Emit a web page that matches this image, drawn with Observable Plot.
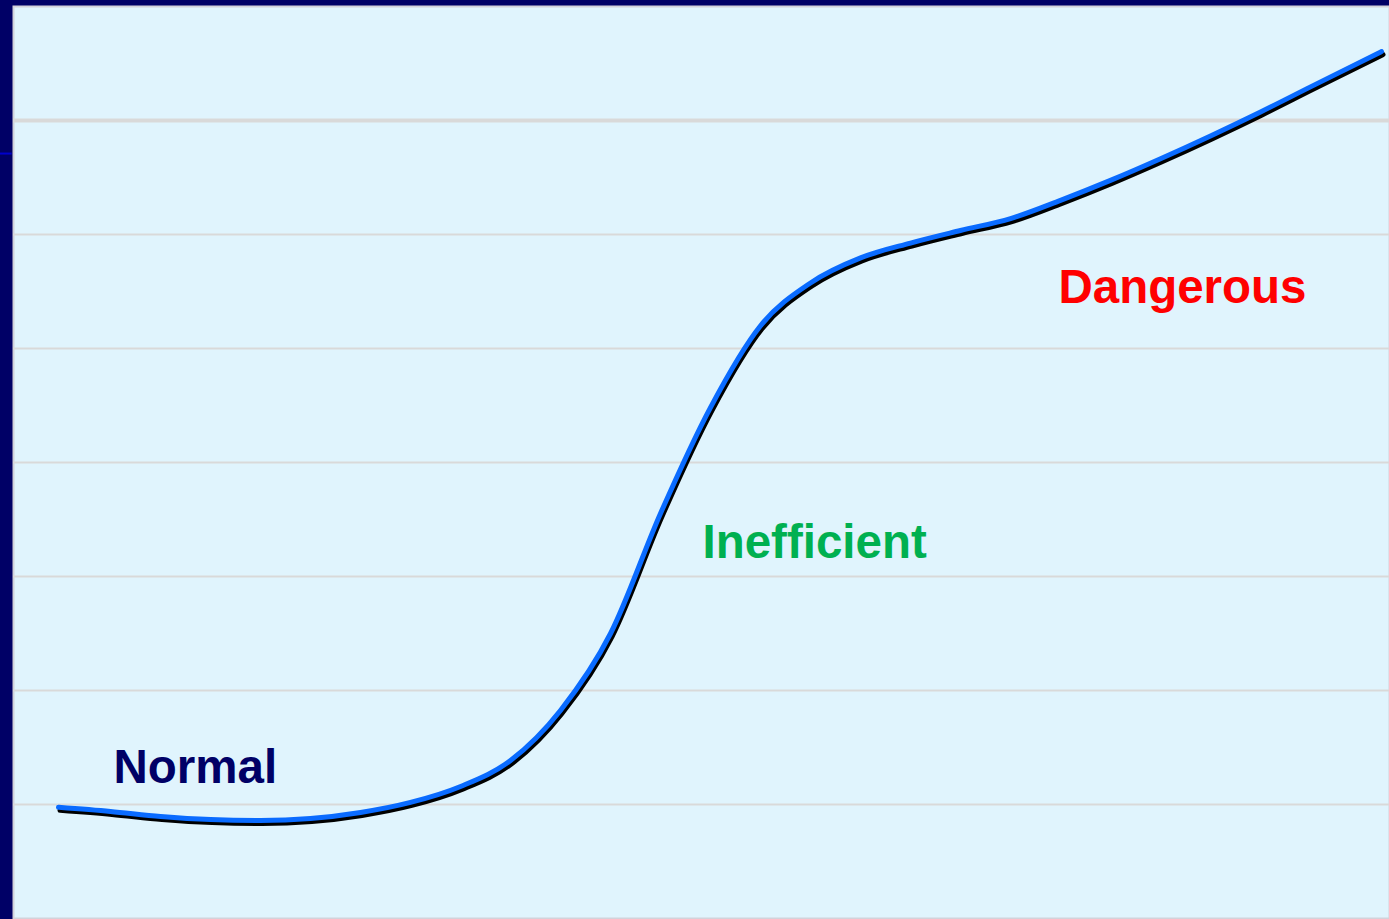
<!DOCTYPE html>
<html>
<head>
<meta charset="utf-8">
<script src="https://cdn.jsdelivr.net/npm/d3@7"></script>
<script src="https://cdn.jsdelivr.net/npm/@observablehq/plot@0.6"></script>
<style>
  html, body { margin: 0; padding: 0; background: #000066; overflow: hidden; }
  #chart svg { display: block; }
</style>
</head>
<body>
<div id="chart"></div>
<script>
// Curve (abstract units: x 0–100 across, y in grid steps)
const curveX = [3.27, 7.05, 10.68, 14.32, 17.95, 21.58, 25.22, 28.85, 32.49, 36.12, 39.75, 43.39, 47.02, 50.65, 54.29, 57.92, 61.56, 65.19, 68.82, 72.46, 76.09, 79.72, 83.36, 86.99, 90.63, 94.26, 99.42];
const curveY = [0.976, 0.939, 0.895, 0.868, 0.860, 0.877, 0.930, 1.018, 1.158, 1.386, 1.825, 2.500, 3.553, 4.482, 5.200, 5.575, 5.795, 5.925, 6.035, 6.140, 6.300, 6.475, 6.665, 6.865, 7.075, 7.295, 7.605];

// Horizontal grid levels
const gridLevels = [1, 2, 3, 4, 5, 6];
const majorGrid = [7];

// Zone labels
const zoneLabels = ["Normal", "Inefficient", "Dangerous"];
const zoneX = [7.27, 50.07, 75.94];
const zoneY = [1.19, 3.16, 5.40];
const zoneColors = ["#000066", "#00B050", "#FF0000"];

const curve = curveX.map((x, i) => ({x, y: curveY[i]}));
const labels = zoneLabels.map((t, i) => ({t, x: zoneX[i], y: zoneY[i], c: zoneColors[i]}));

const chart = Plot.plot({
  width: 1389,
  height: 919,
  marginLeft: 13,
  marginRight: 0,
  marginTop: 6,
  marginBottom: 1,
  x: {domain: [0, 100], axis: null},
  y: {domain: [0, 8], axis: null},
  style: {background: "transparent", fontFamily: "'Liberation Sans', Arial, sans-serif"},
  marks: [
    Plot.frame({fill: "#e0f4fd", stroke: "#d2d2da", strokeWidth: 2}),
    Plot.ruleY([6.71], {x1: -0.95, x2: -0.1, stroke: "#0000cc", strokeWidth: 2, clip: false}),
    Plot.ruleY(gridLevels, {stroke: "#d9d9d9", strokeWidth: 2}),
    Plot.ruleY(majorGrid, {stroke: "#d9d9d9", strokeWidth: 4}),
    Plot.line(curve, {x: "x", y: "y", curve: "monotone-x", stroke: "#000000", strokeWidth: 5, dx: 1.5, dy: 3}),
    Plot.line(curve, {x: "x", y: "y", curve: "monotone-x", stroke: "#0a6bff", strokeWidth: 5}),
    Plot.text(labels, {x: "x", y: "y", text: "t", fill: "c", textAnchor: "start", lineAnchor: "bottom", fontSize: 47.5, fontWeight: "bold"})
  ]
});
document.getElementById("chart").appendChild(chart);
</script>
</body>
</html>
